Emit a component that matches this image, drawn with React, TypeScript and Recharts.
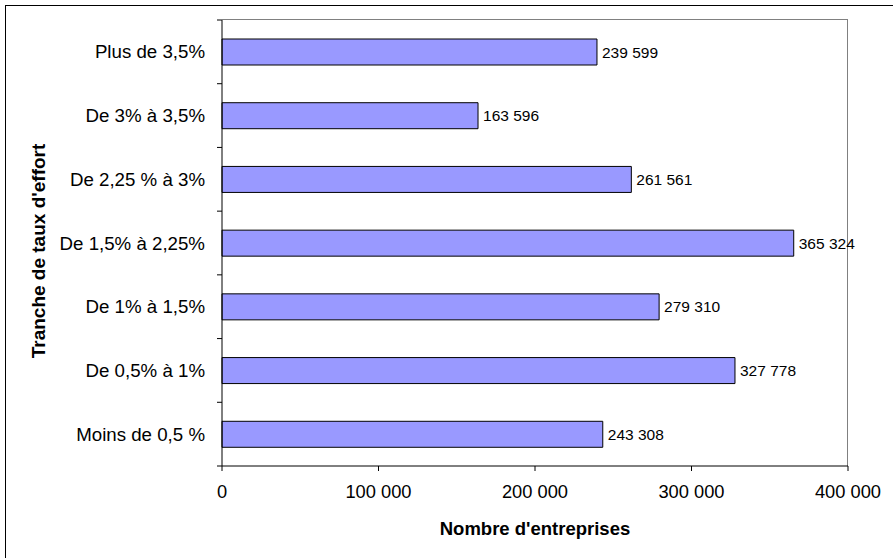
import React from 'react';
import { BarChart, Bar, XAxis, YAxis, LabelList } from 'recharts';

const categories = [
  'Plus de 3,5%',
  'De 3% à 3,5%',
  'De 2,25 % à 3%',
  'De 1,5% à 2,25%',
  'De 1% à 1,5%',
  'De 0,5% à 1%',
  'Moins de 0,5 %',
];
const values = [239599, 163596, 261561, 365324, 279310, 327778, 243308];
const xTicks = [0, 100000, 200000, 300000, 400000];
const xMax = 400000;
const xTitle = "Nombre d'entreprises";
const yTitle = "Tranche de taux d'effort";

const data = categories.map((c, i) => ({ name: c, value: values[i] }));

const FONT = 'Arial, "Liberation Sans", sans-serif';
const CHART_W = 893;
const CHART_H = 558;
const MARGIN = { top: 20, right: 45, bottom: 32, left: 0 };
const Y_AXIS_W = 222;
const X_AXIS_H = 60;

const fmt = (v: number) => {
  const s = Math.round(v).toString();
  return s.replace(/\B(?=(\d{3})+(?!\d))/g, ' ');
};

const CatTick = (props: any) => {
  const { x, y, payload, index } = props;
  const half = payload && payload.offset ? payload.offset : 446 / 7 / 2;
  return (
    <g>
      <text
        x={x - 17}
        y={y}
        textAnchor="end"
        dominantBaseline="central"
        fontFamily={FONT}
        fontSize={18.7}
        fill="#000"
      >
        {payload.value}
      </text>
      <line x1={x - 5} x2={x} y1={y - half} y2={y - half} stroke="#000" strokeWidth={1} />
      {index === categories.length - 1 && (
        <line x1={x - 5} x2={x} y1={y + half} y2={y + half} stroke="#000" strokeWidth={1} />
      )}
    </g>
  );
};

const XTick = (props: any) => {
  const { x, y, payload } = props;
  return (
    <text
      x={x}
      y={y + 25}
      textAnchor="middle"
      fontFamily={FONT}
      fontSize={18.3}
      fill="#000"
    >
      {fmt(payload.value)}
    </text>
  );
};

const XTitle = (props: any) => {
  const vb = props.viewBox || {};
  const left = vb.x || 0;
  const right = left + (vb.width || 0);
  const axisY = vb.y || 0;
  return (
    <text
      x={(left + right) / 2}
      y={axisY + 69}
      textAnchor="middle"
      fontFamily={FONT}
      fontSize={18.5}
      fontWeight="bold"
      fill="#000"
    >
      {xTitle}
    </text>
  );
};

const YTitle = (props: any) => {
  const vb = props.viewBox || {};
  const cy = (vb.y || 0) + (vb.height || 0) / 2 + 8;
  const cx = 38;
  return (
    <text
      x={cx}
      y={cy}
      transform={`rotate(-90, ${cx}, ${cy})`}
      textAnchor="middle"
      dominantBaseline="central"
      fontFamily={FONT}
      fontSize={19}
      fontWeight="bold"
      fill="#000"
    >
      {yTitle}
    </text>
  );
};

export default function App() {
  const plotLeft = MARGIN.left + Y_AXIS_W;
  const plotTop = MARGIN.top;
  const plotW = CHART_W - MARGIN.right - plotLeft;
  const plotH = CHART_H - MARGIN.bottom - X_AXIS_H - plotTop;
  return (
    <div
      style={{
        position: 'absolute',
        left: 0,
        top: 0,
        width: CHART_W,
        height: CHART_H,
        overflow: 'hidden',
        background: '#fff',
      }}
    >
      <div
        style={{
          position: 'absolute',
          left: 5,
          top: 5,
          width: 1000,
          height: 1000,
          borderTop: '1.5px solid #000',
          borderLeft: '1.5px solid #000',
        }}
      />
      {/* grey frame of the plot area (top and right edges) */}
      <div
        style={{
          position: 'absolute',
          left: plotLeft,
          top: plotTop - 1,
          width: plotW,
          height: plotH + 1,
          borderTop: '1px solid #808080',
          borderRight: '1px solid #808080',
          boxSizing: 'border-box',
        }}
      />
      <div style={{ position: 'absolute', left: 0, top: 0 }}>
        <BarChart
          width={CHART_W}
          height={CHART_H}
          data={data}
          layout="vertical"
          margin={MARGIN}
          barSize={26}
        >
          <XAxis
            type="number"
            domain={[0, xMax]}
            ticks={xTicks}
            interval={0}
            height={X_AXIS_H}
            axisLine={{ stroke: '#000', strokeWidth: 1 }}
            tickLine={{ stroke: '#000', strokeWidth: 1 }}
            tickSize={5}
            tick={<XTick />}
            label={<XTitle />}
          />
          <YAxis
            type="category"
            dataKey="name"
            width={Y_AXIS_W}
            interval={0}
            tickSize={0}
            tickMargin={0}
            axisLine={{ stroke: '#000', strokeWidth: 1 }}
            tickLine={false}
            tick={<CatTick />}
            label={<YTitle />}
          />
          <Bar
            dataKey="value"
            fill="#9999FF"
            stroke="#000"
            strokeWidth={1}
            isAnimationActive={false}
          >
            <LabelList
              dataKey="value"
              position="right"
              offset={5}
              formatter={(v: any) => fmt(Number(v))}
              style={{ fontFamily: FONT, fontSize: 15.5, fill: '#000' }}
            />
          </Bar>
        </BarChart>
      </div>
    </div>
  );
}
